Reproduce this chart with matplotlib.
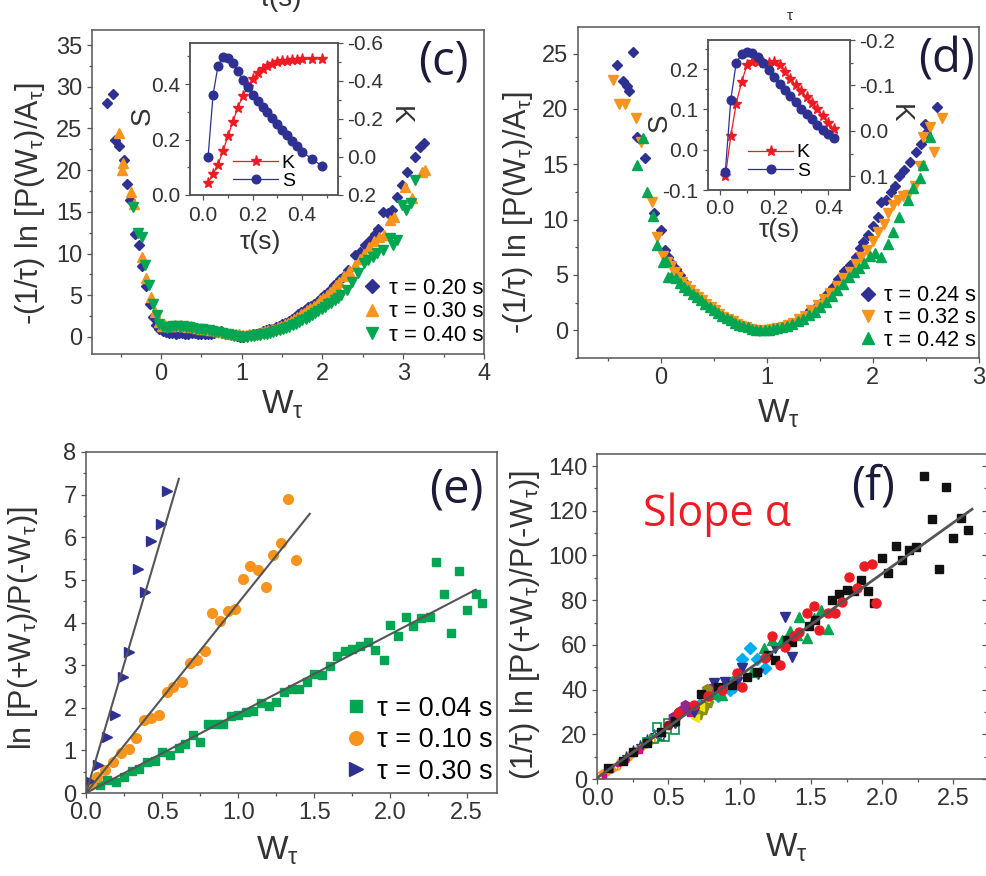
import matplotlib
matplotlib.use('Agg')
import matplotlib.pyplot as plt
from matplotlib.ticker import MultipleLocator

plt.rcParams['font.family'] = ['Liberation Sans', 'DejaVu Sans']
plt.rcParams['mathtext.fontset'] = 'custom'
plt.rcParams['mathtext.rm'] = 'Liberation Sans'

W, H = 986, 876
NAVY = '#2e3192'
ORANGE = '#f7941d'
GREEN = '#00a651'
RED = '#ed1c24'
TXT = '#333333'
SPINE = '#555555'
LETTER = '#1c1c3a'

# ---------------- panel (c) ----------------
c020_w = [-0.67, -0.60, -0.57, -0.52, -0.46, -0.42, -0.38, -0.32, -0.27, -0.23, -0.19, -0.14, -0.10, -0.06, -0.02,
          0.02, 0.06, 0.10, 0.14, 0.18, 0.22, 0.26, 0.30, 0.34, 0.38, 0.42, 0.46, 0.50, 0.54, 0.58, 0.62, 0.66,
          0.70, 0.74, 0.78, 0.82, 0.86, 0.90, 0.94, 0.98,
          1.02, 1.06, 1.10, 1.14, 1.18, 1.22, 1.26, 1.30, 1.34, 1.38, 1.42, 1.46, 1.50, 1.54, 1.58, 1.62, 1.66,
          1.70, 1.74, 1.78, 1.82, 1.86, 1.90, 1.94, 1.98, 2.02, 2.06, 2.10, 2.14, 2.18, 2.22,
          2.25, 2.32, 2.40, 2.46, 2.53, 2.59, 2.65, 2.69, 2.75, 2.81, 2.86, 2.92, 2.99, 3.05, 3.15, 3.21, 3.26]
c020_y = [28.0, 29.1, 23.6, 22.9, 21.2, 18.3, 16.4, 12.3, 11.0, 8.5, 6.1, 4.0, 2.4, 1.4, 0.9,
          0.7, 0.6, 0.5, 0.5, 0.4, 0.5, 0.5, 0.4, 0.4, 0.5, 0.5, 0.4, 0.3, 0.3, 0.3, 0.4, 0.5,
          0.6, 0.7, 0.5, 0.4, 0.3, 0.2, 0.1, 0.0,
          0.0, 0.1, 0.2, 0.3, 0.4, 0.5, 0.7, 0.8, 0.9, 1.0, 1.2, 1.3, 1.5, 1.7, 1.9, 2.1, 2.4,
          2.7, 3.0, 3.2, 3.6, 3.7, 4.0, 4.3, 4.7, 5.0, 5.3, 5.8, 6.2, 6.5, 7.0,
          7.2, 8.0, 9.8, 10.2, 11.0, 11.6, 12.3, 12.9, 15.0, 14.9, 15.2, 16.8, 18.2, 19.8, 21.6, 22.8, 23.3]

c030_w = [-0.52, -0.47, -0.48, -0.37, -0.33, -0.24, -0.18, -0.12, -0.07, -0.03,
          0.01, 0.05, 0.09, 0.13, 0.17, 0.21, 0.25, 0.29, 0.33, 0.37, 0.41, 0.45, 0.49, 0.53, 0.57, 0.61,
          0.65, 0.69, 0.73, 0.77, 0.81, 0.85, 0.89, 0.93, 0.97,
          1.01, 1.05, 1.09, 1.13, 1.17, 1.21, 1.25, 1.29, 1.33, 1.37, 1.41, 1.45, 1.49, 1.53, 1.57, 1.61,
          1.65, 1.69, 1.73, 1.77, 1.81, 1.85, 1.89, 1.93, 1.97, 2.01, 2.05, 2.09, 2.13, 2.17, 2.21,
          2.27, 2.33, 2.40, 2.46, 2.52, 2.58, 2.64, 2.70, 2.76, 2.84, 2.88, 3.02, 3.11, 3.23, 3.27]
c030_y = [24.5, 20.8, 20.0, 17.4, 16.0, 9.6, 7.1, 4.8, 3.0, 1.8,
          1.3, 1.4, 1.3, 1.3, 1.4, 1.3, 1.4, 1.3, 1.2, 1.3, 1.2, 1.1, 1.0, 1.0, 0.9, 0.8,
          0.8, 0.7, 0.6, 0.6, 0.5, 0.4, 0.4, 0.3, 0.3,
          0.2, 0.2, 0.3, 0.3, 0.4, 0.5, 0.6, 0.7, 0.8, 0.9, 1.0, 1.2, 1.3, 1.5, 1.7, 1.9,
          2.2, 2.4, 2.7, 2.9, 3.2, 3.5, 3.7, 4.0, 4.4, 4.7, 5.0, 5.4, 5.8, 6.2, 6.6,
          7.3, 7.9, 8.6, 9.3, 10.0, 10.8, 11.5, 12.0, 12.2, 14.0, 14.4, 18.0, 16.7, 19.8, 20.0]

c040_w = [-0.35, -0.28, -0.24, -0.20, -0.15, -0.10, -0.05, -0.02,
          0.03, 0.07, 0.11, 0.15, 0.19, 0.23, 0.27, 0.31, 0.35, 0.39, 0.43, 0.47, 0.51, 0.55, 0.59, 0.63,
          0.67, 0.71, 0.75, 0.79, 0.83, 0.87, 0.91, 0.95, 0.99,
          1.03, 1.07, 1.11, 1.15, 1.19, 1.23, 1.27, 1.31, 1.35, 1.39, 1.43, 1.47, 1.51, 1.55, 1.59, 1.63,
          1.67, 1.71, 1.75, 1.79, 1.83, 1.87, 1.91, 1.95, 1.99, 2.03, 2.07, 2.11, 2.15, 2.19, 2.23,
          2.30, 2.37, 2.44, 2.52, 2.56, 2.62, 2.67, 2.75, 2.84, 2.87, 2.92, 2.99, 3.04, 3.10, 3.14]
c040_y = [15.6, 12.5, 12.0, 8.6, 6.2, 4.0, 2.6, 1.6,
          1.2, 1.1, 1.2, 1.3, 1.3, 1.2, 1.3, 1.2, 1.2, 1.1, 1.0, 1.0, 0.9, 0.8, 0.8, 0.7,
          0.6, 0.6, 0.5, 0.4, 0.3, 0.2, 0.1, 0.1, 0.0,
          0.0, 0.0, 0.1, 0.1, 0.2, 0.2, 0.3, 0.4, 0.5, 0.6, 0.7, 0.8, 0.9, 1.1, 1.2, 1.4,
          1.6, 1.8, 2.0, 2.2, 2.4, 2.6, 2.9, 3.1, 3.4, 3.6, 3.9, 4.1, 4.4, 4.7, 5.0,
          5.6, 6.6, 7.7, 8.9, 9.2, 9.6, 10.1, 10.4, 11.9, 11.0, 11.6, 15.8, 15.2, 16.1, 18.8]

ci_tau = [0.02, 0.04, 0.06, 0.08, 0.10, 0.12, 0.14, 0.16, 0.18, 0.20, 0.22, 0.24, 0.26, 0.28, 0.30,
          0.32, 0.34, 0.36, 0.38, 0.40, 0.44, 0.48]
ci_S = [0.137, 0.36, 0.465, 0.497, 0.495, 0.477, 0.447, 0.415, 0.39, 0.36, 0.34, 0.318, 0.298, 0.277,
        0.257, 0.236, 0.216, 0.195, 0.175, 0.155, 0.13, 0.105]
ci_K = [0.135, 0.092, 0.04, -0.03, -0.11, -0.185, -0.26, -0.32, -0.37, -0.41, -0.44, -0.465, -0.48,
        -0.49, -0.498, -0.503, -0.507, -0.51, -0.512, -0.514, -0.515, -0.516]

# ---------------- panel (d) ----------------
d024_w = [-0.41, -0.26, -0.36, -0.32, -0.30, -0.22, -0.15, -0.06, 0.00, 0.04,
          0.07, 0.10, 0.14, 0.18, 0.21, 0.25, 0.29, 0.32, 0.35, 0.39, 0.43, 0.47, 0.51, 0.55, 0.60, 0.64,
          0.69, 0.73, 0.78, 0.82, 0.87, 0.91, 0.95, 0.99, 1.03, 1.07,
          1.12, 1.17, 1.22, 1.29, 1.35, 1.41, 1.46, 1.51, 1.56, 1.62, 1.67, 1.73, 1.78, 1.84, 1.88, 1.91,
          1.95, 2.00, 2.05, 2.08, 2.12, 2.17, 2.21, 2.25, 2.29, 2.35, 2.41, 2.45, 2.49, 2.50, 2.60]
d024_y = [24.0, 25.1, 22.5, 22.1, 21.6, 17.5, 15.6, 10.6, 9.1, 7.3,
          6.6, 6.1, 5.5, 5.0, 4.5, 3.9, 3.5, 3.2, 3.0, 2.7, 2.4, 2.1, 1.8, 1.5, 1.2, 1.0,
          0.8, 0.6, 0.4, 0.3, 0.15, 0.05, 0.0, 0.05, 0.1, 0.2,
          0.3, 0.45, 0.6, 0.9, 1.3, 1.8, 2.1, 2.5, 3.2, 3.9, 4.6, 5.4, 5.9, 6.6, 7.4, 8.0,
          8.6, 9.4, 10.2, 11.6, 11.8, 12.5, 13.0, 13.9, 14.5, 15.2, 16.1, 16.8, 18.6, 17.8, 20.2]

d032_w = [-0.45, -0.39, -0.34, -0.23, -0.19, -0.08, -0.035, 0.02, 0.06, 0.10, 0.13, 0.16, 0.20, 0.24,
          0.28, 0.31, 0.35, 0.39, 0.43, 0.47, 0.51, 0.55, 0.59, 0.63, 0.68, 0.72, 0.76, 0.80, 0.85, 0.89,
          0.93, 0.97, 1.01, 1.05, 1.10,
          1.15, 1.20, 1.25, 1.30, 1.36, 1.42, 1.48, 1.54, 1.60, 1.66, 1.72, 1.78, 1.84, 1.89, 1.94, 2.00,
          2.05, 2.10, 2.14, 2.19, 2.24, 2.28, 2.33, 2.40, 2.44, 2.47, 2.54, 2.58, 2.65]
d032_y = [22.6, 20.4, 20.4, 19.2, 17.0, 11.6, 8.4, 6.7, 6.2, 5.8, 5.3, 4.8, 4.4, 4.0,
          3.6, 3.3, 3.0, 2.7, 2.4, 2.1, 1.8, 1.5, 1.2, 1.0, 0.8, 0.6, 0.4, 0.3, 0.1, 0.0,
          -0.1, 0.0, 0.0, 0.1, 0.2,
          0.3, 0.5, 0.7, 1.0, 1.3, 1.8, 2.3, 2.8, 3.4, 4.0, 4.7, 5.3, 6.0, 6.6, 7.3, 8.1,
          8.9, 9.6, 10.6, 11.3, 11.8, 12.1, 12.2, 13.0, 14.8, 17.5, 18.4, 16.1, 19.2]

d042_w = [-0.22, -0.17, -0.13, -0.07, -0.035, 0.02, 0.05, 0.07, 0.10, 0.14, 0.18, 0.22, 0.26, 0.30,
          0.34, 0.38, 0.42, 0.46, 0.50, 0.54, 0.58, 0.62, 0.66, 0.70, 0.74, 0.78, 0.82, 0.86, 0.90, 0.94,
          0.98, 1.02, 1.06, 1.10,
          1.14, 1.19, 1.24, 1.29, 1.34, 1.40, 1.45, 1.50, 1.56, 1.61, 1.66, 1.72, 1.77, 1.82, 1.87, 1.92,
          1.97, 2.02, 2.08, 2.14, 2.19, 2.25, 2.33, 2.38, 2.44, 2.47, 2.54]
d042_y = [14.9, 17.4, 12.5, 10.3, 7.7, 6.2, 6.3, 4.8, 4.8, 4.7, 4.3, 3.9, 3.6, 3.3,
          3.0, 2.7, 2.4, 2.1, 1.8, 1.6, 1.3, 1.1, 0.9, 0.7, 0.5, 0.4, 0.3, 0.1, 0.0, 0.0,
          0.0, 0.0, 0.1, 0.2,
          0.3, 0.4, 0.6, 0.8, 1.0, 1.4, 1.7, 2.1, 2.6, 3.1, 3.6, 4.2, 4.8, 5.3, 5.6, 6.1,
          6.7, 7.0, 6.6, 7.8, 8.9, 10.2, 11.8, 12.9, 13.8, 14.9, 17.5]

di_tau = [0.02, 0.04, 0.06, 0.08, 0.10, 0.12, 0.14, 0.16, 0.18, 0.20, 0.22, 0.24, 0.26, 0.28, 0.30,
          0.32, 0.34, 0.36, 0.38, 0.40, 0.42]
di_S = [-0.055, 0.123, 0.215, 0.237, 0.243, 0.239, 0.23, 0.215, 0.198, 0.18, 0.163, 0.147, 0.132,
        0.117, 0.102, 0.088, 0.075, 0.062, 0.05, 0.038, 0.028]
di_K = [0.1, 0.012, -0.06, -0.108, -0.145, -0.152, -0.152, -0.15, -0.15, -0.152, -0.145, -0.13, -0.115,
        -0.1, -0.087, -0.074, -0.061, -0.048, -0.033, -0.018, -0.005]

# ---------------- panel (e) ----------------
e030_w = [0.02, 0.08, 0.14, 0.19, 0.24, 0.28, 0.34, 0.39, 0.43, 0.49, 0.53]
e030_y = [0.28, 0.66, 1.32, 1.83, 2.72, 3.30, 5.26, 4.72, 5.92, 6.31, 7.09]
e010_w = [0.03, 0.07, 0.125, 0.18, 0.23, 0.28, 0.33, 0.38, 0.43, 0.48, 0.53, 0.57, 0.63, 0.68,
          0.73, 0.78, 0.83, 0.88, 0.93, 0.98, 1.03, 1.08, 1.13, 1.18, 1.23, 1.28, 1.33, 1.38]
e010_y = [0.23, 0.38, 0.54, 0.72, 0.93, 1.03, 1.29, 1.71, 1.75, 1.83, 2.38, 2.49, 2.61, 3.05,
          3.12, 3.33, 4.22, 4.04, 4.28, 4.32, 5.02, 5.33, 5.23, 4.84, 5.59, 5.87, 6.90, 5.47]
e004_w = [0.09, 0.14, 0.20, 0.25, 0.30, 0.35, 0.40, 0.45, 0.50, 0.55, 0.61, 0.65, 0.70, 0.75, 0.80,
          0.86, 0.90, 0.95, 1.00, 1.05, 1.10, 1.15, 1.20, 1.25, 1.30, 1.35, 1.40, 1.45, 1.50, 1.55,
          1.60, 1.65, 1.70, 1.75, 1.80, 1.85, 1.90, 1.96, 2.00, 2.05, 2.10, 2.15, 2.20, 2.26, 2.30,
          2.35, 2.40, 2.45, 2.50, 2.56, 2.60]
e004_y = [0.19, 0.30, 0.26, 0.37, 0.51, 0.57, 0.72, 0.76, 0.96, 0.88, 1.06, 1.16, 1.36, 1.20, 1.63,
          1.61, 1.63, 1.80, 1.83, 1.89, 1.92, 2.11, 2.05, 2.13, 2.37, 2.45, 2.43, 2.60, 2.80, 2.78,
          2.97, 3.22, 3.33, 3.38, 3.45, 3.55, 3.36, 3.12, 3.95, 3.68, 4.14, 3.91, 4.10, 4.14, 5.41,
          4.66, 3.76, 5.20, 4.30, 4.68, 4.46]
efit030_w, efit030_y = [0.0, 0.61], [0.0, 7.37]
efit010_w, efit010_y = [0.0, 1.47], [0.0, 6.55]
efit004_w, efit004_y = [0.0, 2.56], [0.0, 4.77]

# ---------------- panel (f) ----------------
f_blk_w = [2.29, 2.45, 2.35, 2.55, 2.60, 2.50, 2.40, 2.24, 2.19, 2.10, 2.14, 2.04, 2.00, 1.90, 1.85,
           1.80, 1.75, 1.70, 1.65, 1.94, 1.53, 1.49, 1.37, 1.33, 1.25, 1.20, 1.12, 1.05, 0.95, 0.85,
           0.73, 0.55, 0.45, 0.35, 0.25, 0.18, 0.08]
f_blk_y = [135.5, 130.6, 116.3, 116.7, 111.4, 107.8, 93.9, 103.8, 102.5, 104.2, 97.9, 92.1, 98.8, 84.1,
           89.0, 84.0, 84.5, 82.7, 80.0, 78.7, 71.0, 68.5, 61.3, 62.0, 53.4, 55.5, 48.0, 45.5, 42.0,
           41.0, 38.0, 26.0, 21.0, 16.0, 12.0, 8.0, 5.0]
f_red_w = [1.93, 1.87, 1.77, 1.82, 1.72, 1.96, 1.52, 1.47, 1.56, 1.62, 1.67, 1.42, 1.38, 1.23, 1.28,
           1.32, 1.18, 1.02, 0.98, 0.88, 0.78, 0.68, 0.57]
f_red_y = [96.2, 95.2, 90.3, 85.4, 79.2, 78.7, 77.4, 74.2, 66.6, 74.2, 74.2, 65.7, 64.0, 64.0, 51.0,
           59.0, 54.1, 41.1, 47.4, 40.0, 37.0, 33.0, 29.5]
f_grn_w = [1.42, 1.57, 1.52, 1.62, 1.47, 1.30, 1.23, 1.17, 1.09, 0.95, 0.88, 0.82, 1.35, 1.40]
f_grn_y = [72.5, 75.6, 72.0, 67.1, 63.1, 62.2, 62.2, 58.6, 47.9, 44.0, 37.6, 38.0, 66.0, 64.5]
f_nvy_w = [1.32, 1.37, 1.02, 1.25, 0.98, 0.90, 0.82, 1.13, 0.68, 0.55]
f_nvy_y = [72.5, 54.6, 49.6, 58.6, 43.5, 43.5, 42.8, 47.0, 30.0, 25.0]
f_cyn_w = [1.07, 1.02, 1.12, 1.18, 0.93, 0.96, 0.85, 0.73]
f_cyn_y = [58.6, 53.7, 53.7, 49.6, 39.8, 41.0, 37.0, 34.0]
f_mag_w = [0.81, 0.88, 0.70, 0.76, 0.66]
f_mag_y = [40.6, 40.6, 31.6, 34.0, 30.0]
f_pur_w = [0.62, 0.53, 0.58, 0.64]
f_pur_y = [33.1, 27.9, 30.5, 31.0]
f_olv_w = [0.77, 0.71, 0.74, 0.78]
f_olv_y = [40.1, 28.6, 30.8, 34.0]
f_yel_w = [0.76, 0.69, 0.72]
f_yel_y = [36.1, 27.2, 32.0]
f_brn_w = [0.57, 0.50]
f_brn_y = [29.7, 24.0]
f_hsq_w = [0.42, 0.50, 0.48, 0.40, 0.55, 0.35]
f_hsq_y = [23.4, 24.9, 19.0, 18.0, 22.0, 16.5]
f_hst_w = [0.25, 0.30, 0.35, 0.40, 0.45, 0.20]
f_hst_y = [13.0, 15.0, 18.0, 20.0, 19.0, 10.5]
f_org_w = [0.02, 0.04, 0.06, 0.08, 0.10, 0.12, 0.14, 0.16, 0.18, 0.20, 0.22, 0.24, 0.26, 0.28, 0.30,
           0.32, 0.34, 0.36, 0.38, 0.40]
f_org_y = [2.0, 2.5, 3.0, 4.0, 4.5, 5.5, 6.0, 7.5, 8.0, 9.0, 10.0, 11.0, 12.0, 13.0, 14.0, 15.0, 15.5,
           16.5, 17.5, 18.0]
f_pnk_w = [0.05, 0.10, 0.15, 0.20, 0.30]
f_pnk_y = [1.5, 4.0, 6.5, 8.5, 12.5]
ffit_w, ffit_y = [0.0, 2.63], [0.5, 120.7]

SUB = 'W$_\\mathregular{τ}$'


def box(l, t, r, b):
    return [l / W, 1 - b / H, (r - l) / W, (b - t) / H]


def ftext(px, py, s, **kw):
    fig.text(px / W, 1 - py / H, s, **kw)


def style(ax, fs=17):
    for s in ax.spines.values():
        s.set_color(SPINE)
        s.set_linewidth(1.1)
    ax.tick_params(which='both', direction='out', colors=SPINE, labelcolor=TXT,
                   labelsize=fs, width=0.9, top=False, right=False, pad=3)
    ax.tick_params(which='major', length=3.8)
    ax.tick_params(which='minor', length=2.2)


def pts(ax, x, y, m, c, ms, label=None, z=2, **kw):
    ax.plot(x, y, ls='none', marker=m, color=c, mec=c, ms=ms, label=label, zorder=z, **kw)


def fmt1(v, p):
    return '0.0' if abs(v) < 1e-9 else f'{v:.1f}'


fig = plt.figure(figsize=(W / 100, H / 100), dpi=100)

# ---- (c) ----
axc = fig.add_axes(box(92, 30, 484, 354))
style(axc)
pts(axc, c020_w, c020_y, 'D', NAVY, 5.2, 'τ = 0.20 s')
pts(axc, c030_w, c030_y, '^', ORANGE, 7, 'τ = 0.30 s')
pts(axc, c040_w, c040_y, 'v', GREEN, 7, 'τ = 0.40 s')
axc.set_xlim(-0.854, 4.0)
axc.set_ylim(-2.04, 36.8)
axc.xaxis.set_major_locator(MultipleLocator(1))
axc.xaxis.set_minor_locator(MultipleLocator(0.5))
axc.yaxis.set_major_locator(MultipleLocator(5))
axc.yaxis.set_minor_locator(MultipleLocator(2.5))
axc.set_ylabel('-(1/τ) ln [P(' + SUB + ')/A$_\\mathregular{τ}$]', fontsize=22, color=TXT)
axc.yaxis.set_label_coords(-0.115, 0.463)
axc.set_xlabel(SUB, fontsize=24, color=TXT)
axc.xaxis.set_label_coords(0.485, -0.105)
axc.legend(loc='center', bbox_to_anchor=(0.845, 0.13), frameon=False, fontsize=16,
           handlelength=0.8, handletextpad=0.35, labelspacing=0.12, borderpad=0, markerscale=1.3)

# inset (c): K on the back axes (right scale), S on top (left scale)
axcK = fig.add_axes(box(190, 43, 338, 195))
axcK.patch.set_facecolor('white')
axcS = axcK.twinx()
axcS.yaxis.tick_left()
axcK.yaxis.tick_right()
axcS.set_zorder(axcK.get_zorder() + 1)
axcS.patch.set_visible(False)
for a in (axcK, axcS):
    style(a, fs=15)
axcK.tick_params(axis='y', which='both', left=False, right=True, labelleft=False, labelright=True)
axcS.tick_params(axis='y', which='both', left=True, right=False, labelleft=True, labelright=False)
axcK.tick_params(axis='x', pad=4)
lK, = axcK.plot(ci_tau, ci_K, '-', color=RED, lw=0.9, marker='*', ms=8, mec=RED, label='K')
lS, = axcS.plot(ci_tau, ci_S, '-', color=NAVY, lw=0.9, marker='o', ms=6.2, mec=NAVY, label='S')
axcK.set_xlim(-0.053, 0.545)
axcK.set_ylim(0.2, -0.6)
axcS.set_ylim(0.0, 0.548)
axcK.xaxis.set_major_locator(MultipleLocator(0.2))
axcK.xaxis.set_minor_locator(MultipleLocator(0.1))
axcK.yaxis.set_major_locator(MultipleLocator(0.2))
axcK.yaxis.set_minor_locator(MultipleLocator(0.1))
axcS.yaxis.set_major_locator(MultipleLocator(0.2))
axcS.yaxis.set_minor_locator(MultipleLocator(0.1))
axcK.xaxis.set_major_formatter(fmt1)
axcK.yaxis.set_major_formatter(fmt1)
axcS.yaxis.set_major_formatter(fmt1)
axcS.legend(handles=[lK, lS], loc='center', bbox_to_anchor=(0.5, 0.15), frameon=False, fontsize=14,
            handlelength=2.3, handletextpad=0.2, labelspacing=0.05, borderpad=0)
ftext(143, 116, 'S', fontsize=20, color=TXT, rotation=90, ha='center', va='center')
ftext(400, 115, 'K', fontsize=20, color=TXT, rotation=-90, ha='center', va='center')
ftext(260, 242, 'τ(s)', fontsize=19, color=TXT, ha='center', va='center')

# ---- (d) ----
axd = fig.add_axes(box(578, 27, 979, 358))
style(axd)
pts(axd, d024_w, d024_y, 'D', NAVY, 5.2, 'τ = 0.24 s')
pts(axd, d032_w, d032_y, 'v', ORANGE, 7, 'τ = 0.32 s')
pts(axd, d042_w, d042_y, '^', GREEN, 7, 'τ = 0.42 s')
axd.set_xlim(-0.78, 3.0)
axd.set_ylim(-2.5, 27.4)
axd.xaxis.set_major_locator(MultipleLocator(1))
axd.xaxis.set_minor_locator(MultipleLocator(0.5))
axd.yaxis.set_major_locator(MultipleLocator(5))
axd.yaxis.set_minor_locator(MultipleLocator(2.5))
axd.set_ylabel('-(1/τ) ln [P(' + SUB + ')/A$_\\mathregular{τ}$]', fontsize=22, color=TXT)
axd.yaxis.set_label_coords(-0.107, 0.44)
axd.set_xlabel(SUB, fontsize=24, color=TXT)
axd.xaxis.set_label_coords(0.5, -0.118)
axd.legend(loc='center', bbox_to_anchor=(0.848, 0.121), frameon=False, fontsize=15.5,
           handlelength=0.8, handletextpad=0.35, labelspacing=0.05, borderpad=0, markerscale=1.3)

# inset (d)
axdK = fig.add_axes(box(708, 40, 850, 190))
axdK.patch.set_facecolor('white')
axdS = axdK.twinx()
axdS.yaxis.tick_left()
axdK.yaxis.tick_right()
axdS.set_zorder(axdK.get_zorder() + 1)
axdS.patch.set_visible(False)
for a in (axdK, axdS):
    style(a, fs=15)
axdK.tick_params(axis='y', which='both', left=False, right=True, labelleft=False, labelright=True)
axdS.tick_params(axis='y', which='both', left=True, right=False, labelleft=True, labelright=False)
mK, = axdK.plot(di_tau, di_K, '-', color=RED, lw=0.9, marker='*', ms=8, mec=RED, label='K')
mS, = axdS.plot(di_tau, di_S, '-', color=NAVY, lw=0.9, marker='o', ms=6.2, mec=NAVY, label='S')
axdK.set_xlim(-0.044, 0.48)
axdK.set_ylim(0.13, -0.2)
axdS.set_ylim(-0.1, 0.272)
axdK.xaxis.set_major_locator(MultipleLocator(0.2))
axdK.xaxis.set_minor_locator(MultipleLocator(0.1))
axdK.yaxis.set_major_locator(MultipleLocator(0.1))
axdK.yaxis.set_minor_locator(MultipleLocator(0.05))
axdS.yaxis.set_major_locator(MultipleLocator(0.1))
axdS.yaxis.set_minor_locator(MultipleLocator(0.05))
axdK.xaxis.set_major_formatter(fmt1)
axdK.yaxis.set_major_formatter(fmt1)
axdS.yaxis.set_major_formatter(fmt1)
axdS.legend(handles=[mK, mS], loc='center', bbox_to_anchor=(0.5, 0.187), frameon=False, fontsize=14,
            handlelength=2.3, handletextpad=0.2, labelspacing=0.05, borderpad=0)
ftext(660, 123, 'S', fontsize=20, color=TXT, rotation=90, ha='center', va='center')
ftext(900, 113, 'K', fontsize=20, color=TXT, rotation=-90, ha='center', va='center')
ftext(779, 230, 'τ(s)', fontsize=19, color=TXT, ha='center', va='center')

# ---- (e) ----
axe = fig.add_axes(box(86, 452, 497, 793))
style(axe)
pts(axe, e004_w, e004_y, 's', GREEN, 6.3, 'τ = 0.04 s')
pts(axe, e010_w, e010_y, 'o', ORANGE, 7, 'τ = 0.10 s')
pts(axe, e030_w, e030_y, '>', NAVY, 7.5, 'τ = 0.30 s')
for fw, fy in ((efit004_w, efit004_y), (efit010_w, efit010_y), (efit030_w, efit030_y)):
    axe.plot(fw, fy, '-', color='#555555', lw=1.5, zorder=3)
axe.set_xlim(0, 2.7)
axe.set_ylim(0, 8)
axe.xaxis.set_major_locator(MultipleLocator(0.5))
axe.xaxis.set_minor_locator(MultipleLocator(0.25))
axe.yaxis.set_major_locator(MultipleLocator(1))
axe.yaxis.set_minor_locator(MultipleLocator(0.5))
axe.xaxis.set_major_formatter(fmt1)
axe.set_ylabel('ln [P(+' + SUB + ')/P(-' + SUB + ')]', fontsize=22, color=TXT)
axe.yaxis.set_label_coords(-0.112, 0.484)
axe.set_xlabel(SUB, fontsize=24, color=TXT)
axe.xaxis.set_label_coords(0.465, -0.122)
axe.legend(loc='center', bbox_to_anchor=(0.81, 0.155), frameon=False, fontsize=19.5,
           handlelength=0.8, handletextpad=0.35, labelspacing=0.2, borderpad=0, markerscale=1.4)

# ---- (f) ----
axf = fig.add_axes(box(597, 454, 987, 779))
style(axf)
pts(axf, f_org_w, f_org_y, 'o', ORANGE, 5, mfc='none', mew=1.2)
pts(axf, f_pnk_w, f_pnk_y, 's', '#ec008c', 3.5)
pts(axf, f_hst_w, f_hst_y, '*', NAVY, 6.5, mfc='none', mew=0.9)
pts(axf, f_hsq_w, f_hsq_y, 's', '#009444', 6, mfc='none', mew=1.2)
pts(axf, f_cyn_w, f_cyn_y, 'D', '#00aeef', 6)
pts(axf, f_mag_w, f_mag_y, 's', '#ec008c', 6)
pts(axf, f_pur_w, f_pur_y, 'h', '#92278f', 7)
pts(axf, f_olv_w, f_olv_y, 'p', '#8d8d1d', 7)
pts(axf, f_yel_w, f_yel_y, '<', '#f2e600', 6)
pts(axf, f_brn_w, f_brn_y, 'o', '#8b1a1a', 6)
pts(axf, f_nvy_w, f_nvy_y, 'v', NAVY, 7)
pts(axf, f_grn_w, f_grn_y, '^', GREEN, 7)
pts(axf, f_blk_w, f_blk_y, 's', '#111111', 6)
pts(axf, f_red_w, f_red_y, 'o', RED, 6.5)
axf.plot(ffit_w, ffit_y, '-', color='#555555', lw=2, zorder=4)
axf.set_xlim(0, 2.735)
axf.set_ylim(0, 145.4)
axf.xaxis.set_major_locator(MultipleLocator(0.5))
axf.xaxis.set_minor_locator(MultipleLocator(0.25))
axf.yaxis.set_major_locator(MultipleLocator(20))
axf.yaxis.set_minor_locator(MultipleLocator(10))
axf.xaxis.set_major_formatter(fmt1)
axf.set_ylabel('(1/τ) ln [P(+' + SUB + ')/P(-' + SUB + ')]', fontsize=22, color=TXT)
axf.yaxis.set_label_coords(-0.14, 0.475)
axf.set_xlabel(SUB, fontsize=24, color=TXT)
axf.xaxis.set_label_coords(0.486, -0.16)
# right-hand ticks point inward (the right spine itself lies at the crop edge)
axfr = axf.twinx()
axfr.set_ylim(axf.get_ylim())
axfr.yaxis.set_major_locator(MultipleLocator(20))
axfr.yaxis.set_minor_locator(MultipleLocator(10))
axfr.tick_params(axis='y', which='both', direction='in', colors=SPINE, labelright=False, width=0.9)
axfr.tick_params(axis='y', which='major', length=3.8)
axfr.tick_params(axis='y', which='minor', length=2.2)
for s in axfr.spines.values():
    s.set_visible(False)

# panel letters and notes
for px, py, s in ((443, 62, '(c)'), (947, 60, '(d)'), (456, 490, '(e)'), (873, 487, '(f)')):
    ftext(px, py, s, fontsize=34, color=LETTER, family=['Open Sans', 'DejaVu Sans'],
          ha='center', va='center')
ftext(717, 515, 'Slope α', fontsize=31, color=RED, family=['Open Sans', 'DejaVu Sans'],
      ha='center', va='center')
# clipped fragments of the labels above the crop
ftext(280, 6, 'τ(s)', fontsize=20, color=TXT, ha='center', va='baseline')
ftext(790, 16, 'τ', fontsize=11, color=TXT, ha='center', va='center')

fig.savefig('out.png', dpi=100)
